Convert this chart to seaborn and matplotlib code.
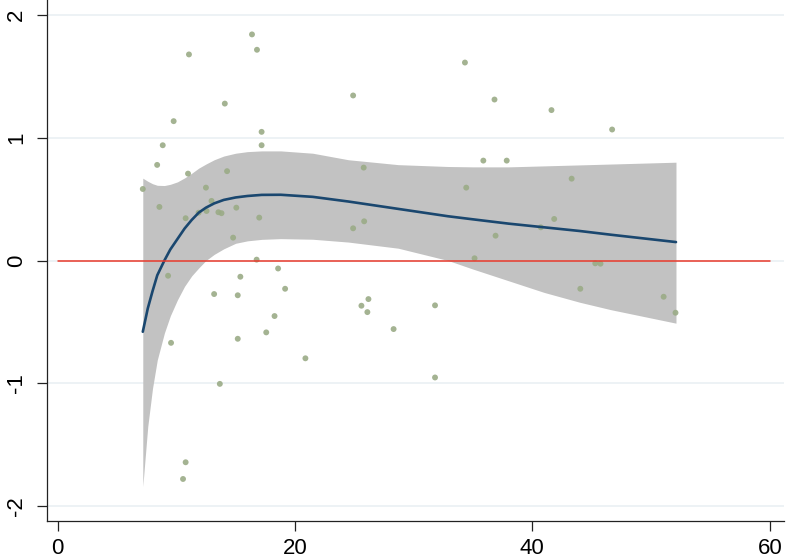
import seaborn as sns
import matplotlib.pyplot as plt
import pandas as pd

obs_x = [16.38, 16.80, 11.07, 14.09, 9.78, 17.19, 8.86, 17.19, 8.39, 10.99,
         14.28, 7.18, 12.50, 8.58, 12.97, 11.88, 12.55, 13.55, 13.81, 15.06,
         10.79, 16.99, 14.79, 16.77, 18.58, 9.31, 15.40, 13.19, 15.18, 19.17,
         18.28, 17.58, 9.56, 15.18, 20.88, 13.67, 10.79, 10.57, 34.32, 24.90,
         36.81, 35.87, 25.79, 34.43, 25.83, 24.90, 36.90, 35.13, 26.19, 25.60,
         26.10, 31.80, 28.31, 31.80, 41.61, 46.72, 37.84, 43.31, 41.84, 40.71,
         45.30, 45.74, 44.04, 51.06, 52.06]
obs_y = [1.84, 1.715, 1.677, 1.277, 1.134, 1.047, 0.938, 0.938, 0.778, 0.707,
         0.727, 0.582, 0.593, 0.436, 0.485, 0.389, 0.403, 0.393, 0.385, 0.430,
         0.344, 0.349, 0.186, 0.007, -0.065, -0.124, -0.132, -0.273, -0.283, -0.230,
         -0.452, -0.585, -0.670, -0.637, -0.796, -1.004, -1.642, -1.778, 1.611, 1.343,
         1.310, 0.813, 0.756, 0.593, 0.319, 0.262, 0.202, 0.018, -0.314, -0.368,
         -0.420, -0.365, -0.558, -0.952, 1.224, 1.066, 0.813, 0.666, 0.338, 0.270,
         -0.023, -0.026, -0.230, -0.295, -0.425]

# fitted curve with its confidence band
fit_x = [7.18, 7.6, 8.0, 8.4, 9.0, 9.5, 10.1, 10.7, 11.3, 11.9,
         12.5, 13.2, 14.0, 15.0, 16.0, 17.2, 18.8, 21.5, 24.5, 28.7,
         32.9, 35.0, 38.0, 41.0, 44.0, 46.6, 52.1]
fit_y = [-0.58, -0.39, -0.25, -0.12, 0.00, 0.09, 0.175, 0.26, 0.33, 0.39,
         0.43, 0.465, 0.493, 0.513, 0.525, 0.534, 0.535, 0.518, 0.48, 0.42,
         0.36, 0.335, 0.30, 0.27, 0.24, 0.21, 0.15]
ci_hi = [0.67, 0.645, 0.625, 0.612, 0.61, 0.62, 0.64, 0.672, 0.71, 0.752,
         0.785, 0.82, 0.85, 0.873, 0.886, 0.892, 0.892, 0.873, 0.82, 0.78,
         0.765, 0.762, 0.762, 0.77, 0.778, 0.785, 0.80]
ci_lo = [-1.84, -1.35, -1.04, -0.81, -0.59, -0.45, -0.32, -0.21, -0.125, -0.06,
         0.00, 0.05, 0.095, 0.14, 0.16, 0.172, 0.178, 0.173, 0.15, 0.10,
         0.00, -0.07, -0.165, -0.26, -0.34, -0.40, -0.51]

# reference line
ref_x = [0, 60]
ref_y = [0, 0]

x_ticks = [0, 20, 40, 60]
y_ticks = [-2, -1, 0, 1, 2]

sns.set_style("white")
plt.rcParams['font.family'] = ['Liberation Sans', 'DejaVu Sans']
plt.rcParams['axes.unicode_minus'] = False

df_obs = pd.DataFrame({"x": obs_x, "y": obs_y})
df_fit = pd.DataFrame({"x": fit_x, "y": fit_y, "lo": ci_lo, "hi": ci_hi})
df_ref = pd.DataFrame({"x": ref_x, "y": ref_y})

fig = plt.figure(figsize=(7.86, 5.59), dpi=100)
ax = fig.add_axes([47 / 786, 38 / 559, 737 / 786, 521 / 559])

for t in y_ticks:
    ax.axhline(t, color="#eaf0f3", lw=1.2, zorder=0)

ax.fill_between(df_fit["x"], df_fit["lo"], df_fit["hi"], color="#c2c2c2", lw=0, zorder=1)
sns.scatterplot(data=df_obs, x="x", y="y", ax=ax, s=18, color="#9aab86",
                edgecolor="none", alpha=0.9, zorder=2)
sns.lineplot(data=df_fit, x="x", y="y", ax=ax, color="#1a476f", lw=1.9, zorder=3)
sns.lineplot(data=df_ref, x="x", y="y", ax=ax, color="#e8392b", lw=1.1, zorder=4)

ax.set_xlim(-0.89, 61.2)
ax.set_ylim(-2.12, 2.12)
ax.set_xticks(x_ticks)
ax.set_yticks(y_ticks)
ax.set_xlabel("")
ax.set_ylabel("")

for s in ["top", "right"]:
    ax.spines[s].set_visible(False)
for s in ["left", "bottom"]:
    ax.spines[s].set_color("#222222")
    ax.spines[s].set_linewidth(0.9)

ax.tick_params(axis="both", direction="out", length=7.5, width=0.9, color="#222222",
               labelsize=16, labelcolor="black", bottom=True, left=True)
ax.tick_params(axis="x", pad=5)
ax.tick_params(axis="y", pad=7)
for lab in ax.get_yticklabels():
    lab.set_rotation(90)
    lab.set_va("center")

fig.savefig("out.png", dpi=100)
plt.close(fig)
